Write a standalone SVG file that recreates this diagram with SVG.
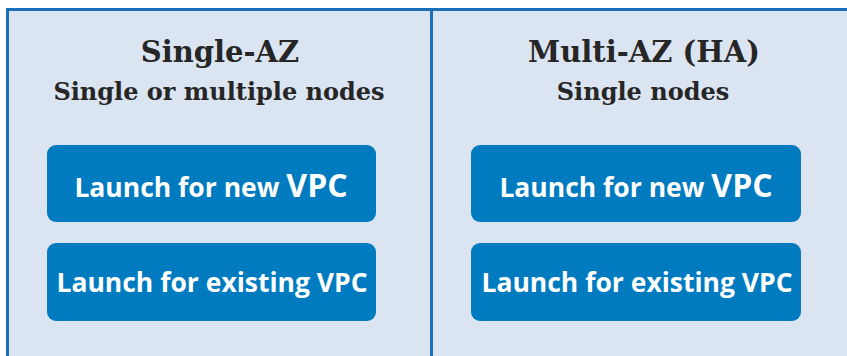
<svg xmlns="http://www.w3.org/2000/svg" width="847" height="356" viewBox="0 0 847 356">
<style>
.bg{fill:#DBE4F1}
.bd{fill:#1B6FB8}
.box{fill:#007BC0}
.t1{font-family:"DejaVu Serif","Liberation Serif",serif;font-weight:bold;font-size:29px;fill:#262626;text-anchor:middle}
.t2{font-family:"DejaVu Serif","Liberation Serif",serif;font-weight:bold;font-size:24px;fill:#262626;text-anchor:middle}
.bt{font-family:"Open Sans","Liberation Sans",sans-serif;font-weight:bold;font-size:26.5px;fill:#FFFFFF;text-anchor:middle}
.big{font-size:32px}
</style>
<g id="frame">
<rect class="bg" x="6" y="8" width="841" height="348"/>
<rect class="bd" x="6" y="8" width="841" height="3"/>
<rect class="bd" x="6" y="8" width="3" height="348"/>
<rect class="bd" x="430" y="8" width="3" height="348"/>
</g>
<g id="single-az">
<text class="t1" x="220" y="62">Single-AZ</text>
<text class="t2" x="219" y="100">Single or multiple nodes</text>
</g>
<g id="multi-az">
<text class="t1" x="644" y="62">Multi-AZ (HA)</text>
<text class="t2" x="643" y="100">Single nodes</text>
</g>
<g id="left-new">
<rect class="box" x="47" y="145" width="329" height="77" rx="9"/>
<text class="bt" x="211" y="197">Launch for new <tspan class="big">VPC</tspan></text>
</g>
<g id="left-existing">
<rect class="box" x="47" y="243" width="329" height="78" rx="9"/>
<text class="bt" x="212" y="292">Launch for existing VPC</text>
</g>
<g id="right-new">
<rect class="box" x="471" y="145" width="330" height="77" rx="9"/>
<text class="bt" x="636" y="197">Launch for new <tspan class="big">VPC</tspan></text>
</g>
<g id="right-existing">
<rect class="box" x="471" y="243" width="330" height="78" rx="9"/>
<text class="bt" x="637" y="292">Launch for existing VPC</text>
</g>
<g id="connectors"></g>
</svg>
